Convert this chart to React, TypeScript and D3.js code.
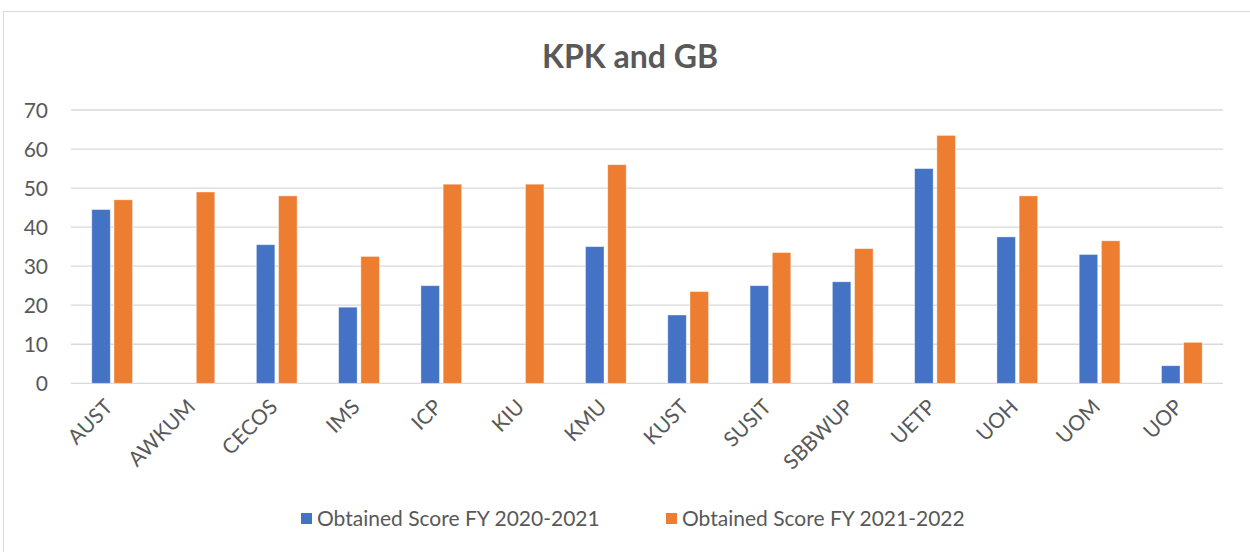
import React, { useEffect, useRef } from "react";
import * as d3 from "d3";

// chart data
const universities = ["AUST", "AWKUM", "CECOS", "IMS", "ICP", "KIU", "KMU", "KUST", "SUSIT", "SBBWUP", "UETP", "UOH", "UOM", "UOP"];
const score2021 = [44.5, 0, 35.5, 19.5, 25, 0, 35, 17.5, 25, 26, 55, 37.5, 33, 4.5];
const score2022 = [47, 49, 48, 32.5, 51, 51, 56, 23.5, 33.5, 34.5, 63.5, 48, 36.5, 10.5];
const seriesNames = ["Obtained Score FY 2020-2021", "Obtained Score FY 2021-2022"];
const yTicks = [0, 10, 20, 30, 40, 50, 60, 70];

const colors = ["#4472C4", "#ED7D31"];
const textColor = "#595959";
const font = "Lato, 'Open Sans', sans-serif";

const App = () => {
  const svgRef = useRef<SVGSVGElement>(null);

  useEffect(() => {
    const W = 1250;
    const H = 552;
    const margin = { top: 110, right: 27, bottom: 169, left: 71 };

    const svg = d3.select(svgRef.current).attr("width", W).attr("height", H);
    svg.selectAll("*").remove();

    // outer chart border
    svg
      .append("rect")
      .attr("x", 3.5)
      .attr("y", 11.5)
      .attr("width", W + 10)
      .attr("height", H + 10)
      .attr("fill", "#fff")
      .attr("stroke", "#d9d9d9")
      .attr("stroke-width", 1);

    // title
    svg
      .append("text")
      .attr("x", 630)
      .attr("y", 68)
      .attr("text-anchor", "middle")
      .attr("font-family", font)
      .attr("font-weight", "bold")
      .attr("font-size", 32)
      .attr("fill", textColor)
      .text("KPK and GB");

    const x = d3
      .scaleBand()
      .domain(universities)
      .range([margin.left, W - margin.right]);

    const y = d3
      .scaleLinear()
      .domain([0, 70])
      .range([H - margin.bottom + 0.3, margin.top]);

    // gridlines
    svg
      .append("g")
      .selectAll("line")
      .data(yTicks)
      .join("line")
      .attr("x1", margin.left)
      .attr("x2", W - margin.right)
      .attr("y1", d => y(d))
      .attr("y2", d => y(d))
      .attr("stroke", "#d9d9d9")
      .attr("stroke-width", 1.3);

    // y labels
    svg
      .append("g")
      .selectAll("text")
      .data(yTicks)
      .join("text")
      .attr("x", 48)
      .attr("y", d => y(d) + 7.5)
      .attr("text-anchor", "end")
      .attr("font-family", font)
      .attr("font-size", 21)
      .attr("fill", textColor)
      .text(d => d);

    // bars
    const bw = x.bandwidth() * 0.225;
    const gap = bw * 0.2;
    const series = [score2021, score2022];

    series.forEach((vals, si) => {
      svg
        .append("g")
        .selectAll("rect")
        .data(universities.map((u, i) => ({ u, v: vals[i] })).filter(d => d.v > 0))
        .join("rect")
        .attr("x", d => x(d.u)! + x.bandwidth() / 2 - bw - gap / 2 + si * (bw + gap))
        .attr("y", d => y(d.v))
        .attr("width", bw)
        .attr("height", d => y(0) - y(d.v))
        .attr("fill", colors[si])
        .attr("stroke", "#fff")
        .attr("stroke-opacity", 0.5)
        .attr("stroke-width", 0.8);
    });

    // x labels, rotated
    svg
      .append("g")
      .selectAll("text")
      .data(universities)
      .join("text")
      .attr("transform", d => `translate(${x(d)! + x.bandwidth() / 2 + 2},${y(0) + 25}) rotate(-45)`)
      .attr("text-anchor", "end")
      .attr("font-family", font)
      .attr("font-size", 21)
      .attr("fill", textColor)
      .text(d => d);

    // legend
    const legendX = [301, 666];
    const legend = svg
      .append("g")
      .selectAll("g")
      .data(seriesNames)
      .join("g")
      .attr("transform", (d, i) => `translate(${legendX[i]},513)`);
    legend
      .append("rect")
      .attr("width", 11)
      .attr("height", 11)
      .attr("fill", (d, i) => colors[i]);
    legend
      .append("text")
      .attr("x", 16)
      .attr("y", 13)
      .attr("font-family", font)
      .attr("font-size", 21)
      .attr("fill", textColor)
      .text(d => d);
  }, []);

  return (
    <svg
      ref={svgRef}
      style={{ position: "absolute", left: 0, top: 0, display: "block", background: "#fff" }}
    />
  );
};

export default App;
